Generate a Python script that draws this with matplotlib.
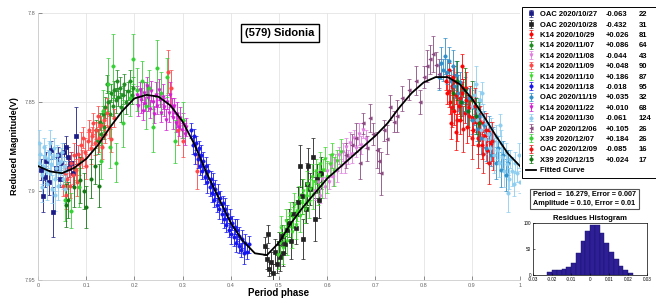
import numpy as np
import matplotlib.pyplot as plt

plt.rcParams['font.family'] = ['Liberation Sans', 'DejaVu Sans']

# session labels (legend)
names = ['OAC 2020/10/27', 'OAC 2020/10/28', 'K14 2020/10/29', 'K14 2020/11/07',
         'K14 2020/11/08', 'K14 2020/11/09', 'K14 2020/11/10', 'K14 2020/11/18',
         'OAC 2020/11/19', 'K14 2020/11/22', 'K14 2020/11/30', 'OAP 2020/12/06',
         'X39 2020/12/07', 'OAC 2020/12/09', 'X39 2020/12/15']
offsets = ['-0.063', '-0.432', '+0.026', '+0.086', '-0.044', '+0.048', '+0.186', '-0.018',
           '+0.035', '+0.010', '-0.061', '+0.105', '+0.184', '-0.085', '+0.024']
counts = [22, 31, 81, 64, 43, 90, 87, 95, 32, 68, 124, 26, 26, 16, 17]

# OAC 2020/10/27
ph_1027 = [0.006, 0.010, 0.014, 0.017, 0.023, 0.027, 0.031, 0.037, 0.041, 0.045, 0.048, 0.054,
           0.058, 0.062, 0.064, 0.068, 0.072, 0.079]
mag_1027 = [7.888, 7.903, 7.892, 7.883, 7.895, 7.877, 7.912, 7.887, 7.880, 7.893, 7.884, 7.878,
            7.875, 7.881, 7.887, 7.884, 7.890, 7.869]
err_1027 = [0.006, 0.009, 0.006, 0.005, 0.007, 0.005, 0.014, 0.006, 0.005, 0.005, 0.006, 0.005,
            0.006, 0.006, 0.005, 0.006, 0.007, 0.016]

# OAC 2020/10/28
ph_1028 = [0.470, 0.476, 0.478, 0.480, 0.484, 0.488, 0.492, 0.495, 0.499, 0.502, 0.506, 0.508,
           0.512, 0.516, 0.520, 0.525, 0.530, 0.535, 0.540, 0.544, 0.548, 0.550, 0.555, 0.558,
           0.560, 0.565, 0.571, 0.575, 0.579, 0.583, 0.588]
mag_1028 = [7.931, 7.938, 7.924, 7.944, 7.940, 7.946, 7.934, 7.941, 7.929, 7.937, 7.925, 7.935,
            7.930, 7.922, 7.918, 7.928, 7.913, 7.921, 7.906, 7.886, 7.903, 7.927, 7.910, 7.896,
            7.886, 7.899, 7.881, 7.916, 7.893, 7.905, 7.890]
err_1028 = [0.005, 0.006, 0.005, 0.004, 0.006, 0.005, 0.007, 0.005, 0.006, 0.008, 0.006, 0.007,
            0.005, 0.006, 0.008, 0.010, 0.007, 0.009, 0.008, 0.012, 0.010, 0.011, 0.008, 0.012,
            0.010, 0.009, 0.011, 0.012, 0.008, 0.010, 0.009]

# K14 2020/10/29
ph_1029 = [0.846, 0.849, 0.852, 0.855, 0.857, 0.858, 0.861, 0.864, 0.867, 0.868, 0.870, 0.873,
           0.876, 0.879, 0.880, 0.882, 0.885, 0.888, 0.891, 0.894, 0.897, 0.900, 0.903, 0.906,
           0.909, 0.912, 0.915, 0.918, 0.921, 0.924, 0.927, 0.931, 0.935, 0.939, 0.943]
mag_1029 = [7.838, 7.845, 7.832, 7.850, 7.862, 7.841, 7.836, 7.855, 7.846, 7.867, 7.839, 7.852,
            7.860, 7.845, 7.830, 7.842, 7.856, 7.849, 7.864, 7.853, 7.847, 7.859, 7.866, 7.852,
            7.861, 7.870, 7.858, 7.866, 7.874, 7.862, 7.869, 7.877, 7.866, 7.873, 7.880]
err_1029 = [0.005, 0.006, 0.004, 0.007, 0.009, 0.005, 0.006, 0.008, 0.005, 0.010, 0.006, 0.005,
            0.008, 0.006, 0.007, 0.005, 0.006, 0.007, 0.009, 0.005, 0.006, 0.007, 0.008, 0.005,
            0.006, 0.009, 0.005, 0.006, 0.008, 0.005, 0.006, 0.007, 0.005, 0.006, 0.008]

# K14 2020/11/07
ph_1107 = [0.120, 0.124, 0.128, 0.131, 0.134, 0.137, 0.140, 0.143, 0.146, 0.149, 0.152, 0.155,
           0.158, 0.161, 0.164, 0.167, 0.170, 0.173, 0.176, 0.179, 0.182, 0.186, 0.190, 0.194,
           0.198]
mag_1107 = [7.866, 7.872, 7.861, 7.868, 7.857, 7.864, 7.853, 7.840, 7.850, 7.857, 7.845, 7.852,
            7.843, 7.849, 7.838, 7.847, 7.842, 7.853, 7.846, 7.840, 7.850, 7.844, 7.838, 7.846,
            7.842]
err_1107 = [0.006, 0.007, 0.005, 0.006, 0.005, 0.007, 0.006, 0.005, 0.006, 0.008, 0.005, 0.006,
            0.005, 0.007, 0.006, 0.005, 0.006, 0.008, 0.005, 0.006, 0.007, 0.005, 0.006, 0.005,
            0.006]

# K14 2020/11/08
ph_1108 = [0.575, 0.580, 0.585, 0.590, 0.595, 0.600, 0.604, 0.608, 0.612, 0.616, 0.620, 0.624,
           0.628, 0.632, 0.636, 0.640, 0.644, 0.648, 0.652, 0.656, 0.660, 0.665, 0.670, 0.675,
           0.680]
mag_1108 = [7.900, 7.895, 7.903, 7.893, 7.898, 7.889, 7.895, 7.886, 7.892, 7.883, 7.889, 7.880,
            7.886, 7.878, 7.884, 7.875, 7.881, 7.873, 7.879, 7.870, 7.876, 7.868, 7.874, 7.866,
            7.871]
err_1108 = [0.005, 0.006, 0.004, 0.005, 0.006, 0.005, 0.004, 0.006, 0.005, 0.004, 0.006, 0.005,
            0.004, 0.005, 0.006, 0.005, 0.004, 0.006, 0.005, 0.004, 0.005, 0.006, 0.005, 0.004,
            0.005]

# K14 2020/11/09
ph_1109 = [0.052, 0.055, 0.058, 0.061, 0.064, 0.066, 0.069, 0.072, 0.075, 0.078, 0.080, 0.083,
           0.086, 0.089, 0.091, 0.094, 0.097, 0.100, 0.103, 0.106, 0.109, 0.112, 0.115, 0.118,
           0.121, 0.124, 0.127, 0.130, 0.133, 0.137, 0.140, 0.144, 0.148, 0.152, 0.157, 0.270,
           0.275, 0.290, 0.300, 0.330]
mag_1109 = [7.897, 7.890, 7.902, 7.893, 7.887, 7.897, 7.884, 7.891, 7.880, 7.888, 7.895, 7.879,
            7.885, 7.874, 7.882, 7.870, 7.878, 7.886, 7.872, 7.866, 7.876, 7.869, 7.862, 7.873,
            7.866, 7.858, 7.870, 7.863, 7.875, 7.860, 7.868, 7.856, 7.864, 7.871, 7.859, 7.833,
            7.842, 7.866, 7.872, 7.889]
err_1109 = [0.006, 0.005, 0.008, 0.006, 0.005, 0.007, 0.006, 0.005, 0.007, 0.006, 0.008, 0.005,
            0.006, 0.007, 0.005, 0.006, 0.008, 0.007, 0.005, 0.006, 0.009, 0.005, 0.006, 0.007,
            0.005, 0.006, 0.008, 0.005, 0.007, 0.006, 0.005, 0.008, 0.006, 0.007, 0.005, 0.012,
            0.010, 0.008, 0.009, 0.010]

# K14 2020/11/10
ph_1110 = [0.498, 0.502, 0.505, 0.508, 0.511, 0.514, 0.517, 0.520, 0.523, 0.526, 0.529, 0.532,
           0.535, 0.538, 0.541, 0.544, 0.547, 0.550, 0.553, 0.556, 0.559, 0.562, 0.565, 0.568,
           0.571, 0.574, 0.577, 0.580, 0.583, 0.586, 0.589, 0.592, 0.596, 0.600, 0.605, 0.610,
           0.615, 0.620, 0.628]
mag_1110 = [7.936, 7.929, 7.921, 7.932, 7.925, 7.917, 7.928, 7.920, 7.913, 7.923, 7.915, 7.908,
            7.919, 7.911, 7.904, 7.914, 7.907, 7.900, 7.910, 7.903, 7.896, 7.906, 7.899, 7.892,
            7.902, 7.895, 7.889, 7.899, 7.891, 7.885, 7.896, 7.888, 7.882, 7.892, 7.885, 7.880,
            7.889, 7.883, 7.878]
err_1110 = [0.008, 0.006, 0.007, 0.009, 0.006, 0.007, 0.008, 0.006, 0.007, 0.009, 0.006, 0.007,
            0.008, 0.006, 0.007, 0.009, 0.006, 0.007, 0.008, 0.006, 0.007, 0.009, 0.006, 0.007,
            0.008, 0.006, 0.007, 0.009, 0.006, 0.007, 0.008, 0.006, 0.007, 0.009, 0.006, 0.007,
            0.008, 0.006, 0.007]

# K14 2020/11/18
ph_1118 = [0.318, 0.321, 0.323, 0.326, 0.328, 0.331, 0.333, 0.336, 0.338, 0.341, 0.343, 0.346,
           0.348, 0.351, 0.353, 0.356, 0.358, 0.361, 0.363, 0.366, 0.368, 0.371, 0.373, 0.376,
           0.378, 0.381, 0.383, 0.386, 0.388, 0.391, 0.393, 0.396, 0.398, 0.401, 0.403, 0.406,
           0.408, 0.411, 0.413, 0.416, 0.418, 0.421, 0.424, 0.427, 0.430, 0.434, 0.438]
mag_1118 = [7.866, 7.874, 7.869, 7.879, 7.873, 7.882, 7.876, 7.886, 7.880, 7.889, 7.883, 7.892,
            7.886, 7.895, 7.889, 7.898, 7.893, 7.901, 7.896, 7.905, 7.899, 7.908, 7.901, 7.910,
            7.904, 7.913, 7.907, 7.916, 7.910, 7.919, 7.913, 7.922, 7.915, 7.924, 7.918, 7.926,
            7.920, 7.929, 7.922, 7.931, 7.925, 7.933, 7.927, 7.935, 7.929, 7.934, 7.930]
err_1118 = [0.004, 0.005, 0.004, 0.006, 0.004, 0.005, 0.004, 0.005, 0.006, 0.004, 0.005, 0.004,
            0.005, 0.006, 0.004, 0.005, 0.004, 0.005, 0.006, 0.004, 0.005, 0.004, 0.005, 0.006,
            0.004, 0.005, 0.004, 0.005, 0.006, 0.004, 0.005, 0.004, 0.005, 0.006, 0.004, 0.005,
            0.004, 0.005, 0.006, 0.004, 0.005, 0.004, 0.005, 0.006, 0.005, 0.004, 0.005]

# OAC 2020/11/19
ph_1119 = [0.832, 0.836, 0.840, 0.844, 0.848, 0.852, 0.856, 0.860, 0.864, 0.868, 0.872, 0.876,
           0.880, 0.885, 0.890, 0.895, 0.900, 0.905, 0.910, 0.915, 0.920, 0.925, 0.930, 0.935,
           0.940, 0.945, 0.950, 0.955, 0.960, 0.965, 0.970, 0.975]
mag_1119 = [7.836, 7.828, 7.832, 7.824, 7.833, 7.827, 7.838, 7.830, 7.841, 7.835, 7.845, 7.839,
            7.850, 7.843, 7.855, 7.848, 7.860, 7.853, 7.865, 7.858, 7.870, 7.863, 7.876, 7.868,
            7.880, 7.872, 7.884, 7.876, 7.888, 7.880, 7.891, 7.884]
err_1119 = [0.007, 0.009, 0.006, 0.010, 0.007, 0.008, 0.006, 0.009, 0.007, 0.008, 0.010, 0.006,
            0.008, 0.007, 0.009, 0.006, 0.008, 0.010, 0.007, 0.006, 0.009, 0.008, 0.007, 0.010,
            0.006, 0.008, 0.009, 0.007, 0.010, 0.008, 0.009, 0.007]

# K14 2020/11/22
ph_1122 = [0.205, 0.208, 0.211, 0.214, 0.217, 0.220, 0.223, 0.226, 0.229, 0.232, 0.235, 0.238,
           0.241, 0.244, 0.247, 0.250, 0.253, 0.256, 0.259, 0.262, 0.265, 0.268, 0.271, 0.274,
           0.277, 0.280, 0.283, 0.286, 0.289, 0.292, 0.295, 0.298, 0.301, 0.304, 0.307]
mag_1122 = [7.846, 7.852, 7.843, 7.849, 7.855, 7.845, 7.851, 7.841, 7.848, 7.854, 7.844, 7.850,
            7.857, 7.846, 7.852, 7.843, 7.849, 7.856, 7.847, 7.853, 7.860, 7.850, 7.856, 7.846,
            7.853, 7.859, 7.852, 7.862, 7.857, 7.864, 7.859, 7.866, 7.861, 7.868, 7.864]
err_1122 = [0.005, 0.006, 0.004, 0.007, 0.005, 0.006, 0.004, 0.005, 0.007, 0.005, 0.006, 0.004,
            0.005, 0.007, 0.005, 0.006, 0.004, 0.005, 0.007, 0.005, 0.006, 0.004, 0.005, 0.007,
            0.005, 0.006, 0.004, 0.005, 0.007, 0.005, 0.006, 0.004, 0.005, 0.006, 0.005]

# K14 2020/11/30
ph_1130 = [0.002, 0.003, 0.005, 0.008, 0.009, 0.011, 0.013, 0.015, 0.016, 0.018, 0.020, 0.022,
           0.024, 0.025, 0.027, 0.029, 0.031, 0.033, 0.035, 0.036, 0.038, 0.040, 0.042, 0.044,
           0.046, 0.047, 0.049, 0.051, 0.053, 0.056, 0.058,
           0.900, 0.905, 0.908, 0.910, 0.913, 0.917, 0.920, 0.922, 0.924, 0.927, 0.930, 0.934,
           0.937, 0.940, 0.944, 0.947, 0.950, 0.953, 0.957, 0.958, 0.960, 0.963, 0.967, 0.970,
           0.973, 0.975, 0.977, 0.980, 0.983, 0.987, 0.990, 0.993, 0.997, 0.999]
mag_1130 = [7.884, 7.873, 7.879, 7.891, 7.898, 7.886, 7.875, 7.881, 7.889, 7.896, 7.882, 7.878,
            7.873, 7.890, 7.885, 7.899, 7.881, 7.876, 7.893, 7.902, 7.887, 7.880, 7.897, 7.884,
            7.890, 7.883, 7.878, 7.893, 7.886, 7.899, 7.889,
            7.852, 7.846, 7.840, 7.860, 7.855, 7.849, 7.866, 7.845, 7.858, 7.871, 7.862, 7.868,
            7.876, 7.865, 7.872, 7.880, 7.869, 7.877, 7.884, 7.863, 7.873, 7.881, 7.889, 7.878,
            7.885, 7.901, 7.893, 7.882, 7.889, 7.896, 7.884, 7.890, 7.880, 7.895]
err_1130 = [0.005, 0.007, 0.006, 0.005, 0.008, 0.006, 0.005, 0.007, 0.006, 0.009, 0.005, 0.006,
            0.007, 0.005, 0.006, 0.008, 0.005, 0.006, 0.007, 0.009, 0.005, 0.006, 0.008, 0.005,
            0.006, 0.007, 0.005, 0.006, 0.005, 0.008, 0.006,
            0.006, 0.008, 0.010, 0.006, 0.007, 0.005, 0.009, 0.006, 0.007, 0.008, 0.006, 0.005,
            0.009, 0.006, 0.007, 0.010, 0.006, 0.005, 0.008, 0.006, 0.007, 0.006, 0.009, 0.005,
            0.007, 0.011, 0.006, 0.005, 0.008, 0.007, 0.006, 0.005, 0.007, 0.006]

# OAP 2020/12/06
ph_1206 = [0.640, 0.652, 0.660, 0.668, 0.675, 0.682, 0.689, 0.695, 0.703, 0.708, 0.712, 0.718,
           0.724, 0.730, 0.738, 0.745, 0.755, 0.770, 0.785, 0.793, 0.800, 0.807, 0.813, 0.820,
           0.826, 0.832]
mag_1206 = [7.880, 7.874, 7.870, 7.884, 7.862, 7.876, 7.859, 7.868, 7.877, 7.883, 7.890, 7.866,
            7.871, 7.853, 7.861, 7.858, 7.848, 7.843, 7.838, 7.850, 7.836, 7.830, 7.826, 7.823,
            7.829, 7.834]
err_1206 = [0.007, 0.006, 0.008, 0.009, 0.006, 0.007, 0.008, 0.006, 0.010, 0.007, 0.012, 0.006,
            0.008, 0.007, 0.006, 0.009, 0.007, 0.006, 0.008, 0.007, 0.006, 0.009, 0.008, 0.010,
            0.007, 0.008]

# X39 2020/12/07
ph_1207 = [0.055, 0.068, 0.085, 0.131, 0.135, 0.146, 0.150, 0.156, 0.162, 0.176, 0.190, 0.198,
           0.205, 0.215, 0.225, 0.230, 0.239, 0.246, 0.255, 0.268, 0.284, 0.300]
mag_1207 = [7.905, 7.911, 7.898, 7.883, 7.855, 7.840, 7.875, 7.830, 7.884, 7.862, 7.848, 7.826,
            7.843, 7.838, 7.852, 7.842, 7.864, 7.831, 7.845, 7.836, 7.872, 7.860]
err_1207 = [0.012, 0.010, 0.011, 0.010, 0.012, 0.015, 0.012, 0.018, 0.011, 0.013, 0.010, 0.014,
            0.012, 0.011, 0.013, 0.010, 0.014, 0.016, 0.012, 0.011, 0.012, 0.010]

# OAC 2020/12/09
ph_1209 = [0.852, 0.858, 0.864, 0.870, 0.876, 0.882, 0.888, 0.894, 0.900, 0.906, 0.912, 0.918,
           0.924, 0.930, 0.936, 0.942]
mag_1209 = [7.844, 7.853, 7.838, 7.860, 7.848, 7.865, 7.842, 7.858, 7.870, 7.852, 7.874, 7.861,
            7.879, 7.866, 7.884, 7.872]
err_1209 = [0.009, 0.011, 0.008, 0.012, 0.010, 0.013, 0.009, 0.011, 0.012, 0.010, 0.013, 0.009,
            0.011, 0.010, 0.012, 0.011]

# X39 2020/12/15
ph_1215 = [0.058, 0.062, 0.075, 0.088, 0.095, 0.100, 0.110, 0.118, 0.126, 0.862, 0.870, 0.878,
           0.885, 0.893, 0.900, 0.908, 0.915]
mag_1215 = [7.908, 7.905, 7.898, 7.894, 7.900, 7.909, 7.893, 7.886, 7.897, 7.845, 7.838, 7.850,
            7.843, 7.855, 7.849, 7.858, 7.862]
err_1215 = [0.012, 0.010, 0.011, 0.013, 0.010, 0.012, 0.011, 0.010, 0.012, 0.009, 0.011, 0.010,
            0.012, 0.009, 0.011, 0.010, 0.012]

# fitted curve
curve_phase = [0.000, 0.025, 0.050, 0.075, 0.100, 0.125, 0.150, 0.175, 0.200, 0.225, 0.250,
               0.275, 0.300, 0.325, 0.350, 0.375, 0.400, 0.425, 0.450, 0.475, 0.500, 0.525,
               0.550, 0.575, 0.600, 0.625, 0.650, 0.675, 0.700, 0.725, 0.750, 0.775, 0.800,
               0.825, 0.850, 0.875, 0.900, 0.925, 0.950, 0.975, 1.000]
curve_mag = [7.886, 7.889, 7.890, 7.887, 7.882, 7.874, 7.864, 7.855, 7.848, 7.846, 7.847,
             7.852, 7.861, 7.874, 7.890, 7.904, 7.918, 7.928, 7.935, 7.936, 7.929, 7.918,
             7.909, 7.901, 7.893, 7.887, 7.881, 7.875, 7.869, 7.862, 7.853, 7.845, 7.839,
             7.836, 7.836, 7.840, 7.848, 7.858, 7.869, 7.879, 7.886]

# residual histogram
hist_left = [-0.0225, -0.02, -0.0175, -0.015, -0.0125, -0.01, -0.0075, -0.005, -0.0025,
             0.0, 0.0025, 0.005, 0.0075, 0.01, 0.0125, 0.015, 0.0175, 0.02]
hist_counts = [5, 9, 9, 12, 16, 24, 42, 65, 85, 97, 97, 80, 62, 45, 30, 18, 9, 4]

phases = [ph_1027, ph_1028, ph_1029, ph_1107, ph_1108, ph_1109, ph_1110, ph_1118,
          ph_1119, ph_1122, ph_1130, ph_1206, ph_1207, ph_1209, ph_1215]
mags = [mag_1027, mag_1028, mag_1029, mag_1107, mag_1108, mag_1109, mag_1110, mag_1118,
        mag_1119, mag_1122, mag_1130, mag_1206, mag_1207, mag_1209, mag_1215]
errs = [err_1027, err_1028, err_1029, err_1107, err_1108, err_1109, err_1110, err_1118,
        err_1119, err_1122, err_1130, err_1206, err_1207, err_1209, err_1215]

colors = ['#1c1c86', '#222222', '#ff0000', '#1e8c1e', '#e07ee0', '#ff4646', '#3bdc2a',
          '#1414ee', '#2f8fc8', '#d21ed2', '#8ccdf0', '#8a4a80', '#34d034', '#ee1111', '#0f770f']
markers = ['s', 's', 'o', 'o', 'v', 'o', 'v', 'o', 'o', 'v', 'o', '<', 'o', 'o', 'o']

fig = plt.figure(figsize=(6.56, 3.01), dpi=100)
ax = fig.add_axes([38 / 656, 1 - 280 / 301, 482 / 656, 267 / 301])

handles = []
for i in range(len(names)):
    h = ax.errorbar(phases[i], mags[i], yerr=errs[i], fmt=markers[i], color=colors[i],
                    ms=2.4, mew=0.5, elinewidth=0.6, capsize=1.3, capthick=0.5, zorder=3)
    handles.append(h)

line, = ax.plot(curve_phase, curve_mag, color='black', lw=1.3, zorder=5)
handles.append(line)

ax.set_xlim(0, 1)
ax.set_ylim(7.95, 7.8)
ax.set_xticks(np.arange(0, 1.01, 0.1))
ax.set_xticklabels(['0', '0.1', '0.2', '0.3', '0.4', '0.5', '0.6', '0.7', '0.8', '0.9', '1'])
ax.set_yticks([7.8, 7.85, 7.9, 7.95])
ax.set_yticklabels(['7.8', '7.85', '7.9', '7.95'])
ax.tick_params(labelsize=4, colors='#666666', direction='in', length=3, width=0.5, pad=2)
ax.grid(True, color='#e4e4e4', lw=0.6)
ax.set_axisbelow(True)
for s in ['top', 'right']:
    ax.spines[s].set_visible(False)
for s in ['left', 'bottom']:
    ax.spines[s].set_color('#cccccc')
    ax.spines[s].set_linewidth(0.6)

ax.set_xlabel('Period phase', fontsize=7, fontweight='bold', labelpad=0.5)
ax.set_ylabel('Reduced Magnitude(V)', fontsize=6.5, fontweight='bold', labelpad=4)

ax.text(0.502, 0.925, '(579) Sidonia', transform=ax.transAxes, ha='center', va='center',
        fontsize=8, fontweight='bold', zorder=10,
        bbox=dict(boxstyle='square,pad=0.35', fc='white', ec='black', lw=1.0))

leg = fig.legend(handles, names + ['Fitted Curve'], loc='upper left', mode='expand',
                 bbox_to_anchor=(522 / 656, 1 - 10 / 301, 150 / 656, 0.01),
                 bbox_transform=fig.transFigure, prop={'weight': 'bold', 'size': 5.5},
                 frameon=True, fancybox=False, edgecolor='black', framealpha=1,
                 handlelength=1.3, handletextpad=0.5, labelspacing=0.4, borderpad=0.5,
                 borderaxespad=0)
leg.get_frame().set_linewidth(0.7)

fig.canvas.draw()
inv = fig.transFigure.inverted()
for t, off, n in zip(leg.get_texts(), offsets, counts):
    bb = t.get_window_extent()
    yc = inv.transform(((bb.x0 + bb.x1) / 2, (bb.y0 + bb.y1) / 2))[1]
    fig.text(606 / 656, yc, off, ha='left', va='center', fontsize=5.5, fontweight='bold',
             zorder=20)
    fig.text(639 / 656, yc, str(n), ha='left', va='center', fontsize=5.5, fontweight='bold',
             zorder=20)

fig.text(533 / 656, 1 - 199 / 301, 'Period =  16.279, Error = 0.007\nAmplitude = 0.10, Error = 0.01',
         ha='left', va='center', fontsize=5.2, fontweight='bold', linespacing=1.3, zorder=20,
         bbox=dict(boxstyle='square,pad=0.35', fc='white', ec='#555555', lw=0.8))

ax2 = fig.add_axes([533 / 656, 1 - 275 / 301, 114 / 656, 52 / 301])
ax2.bar(hist_left, hist_counts, width=0.0025, align='edge', color='#2e1f96',
        edgecolor='#14106a', lw=0.3)
ax2.set_xlim(-0.03, 0.03)
ax2.set_ylim(0, 100)
ax2.set_xticks([-0.03, -0.02, -0.01, 0, 0.01, 0.02, 0.03])
ax2.set_xticklabels(['-0.03', '-0.02', '-0.01', '0', '0.01', '0.02', '0.03'])
ax2.set_yticks([0, 50, 100])
ax2.tick_params(labelsize=3.3, direction='in', length=1.5, width=0.4, pad=1.5)
for s in ax2.spines.values():
    s.set_linewidth(0.5)
ax2.set_title('Residues Histogram', fontsize=5.5, fontweight='bold', pad=2)

fig.savefig('out.png', dpi=100)
